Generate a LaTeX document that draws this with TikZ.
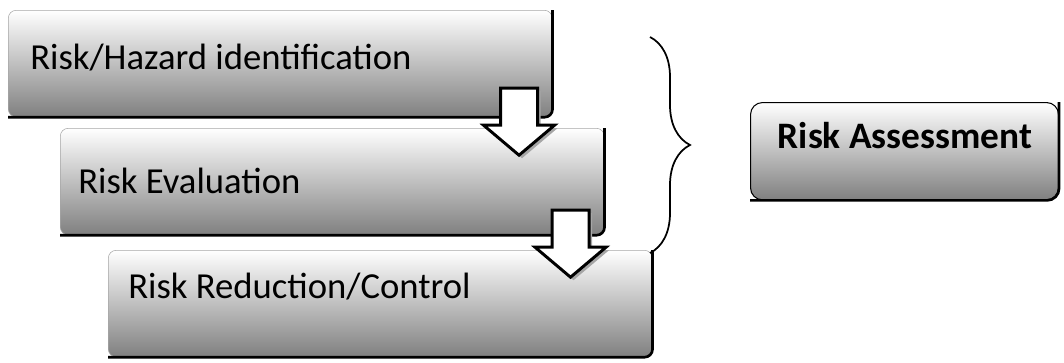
\documentclass[tikz,border=0pt]{standalone}
\usepackage{fontspec}
\setmainfont{Carlito}
\usetikzlibrary{positioning, decorations.pathreplacing}

\begin{document}
\begin{tikzpicture}[
  x=0.75pt, y=-0.75pt,
  stage/.style={rectangle, rounded corners=6pt, anchor=north west, inner sep=0pt,
    minimum width=408pt, minimum height=80pt, top color=white, bottom color=black!50, draw=black!35},
  edge/.style={line width=2pt, rounded corners=6pt},
  stagetext/.style={anchor=base west, inner sep=0pt, font=\fontsize{27.5}{32}\selectfont},
  summary/.style={rectangle, rounded corners=9pt, anchor=north west, inner sep=0pt,
    minimum width=231pt, minimum height=73pt, top color=white, bottom color=black!50, draw, thick},
  flowarrow/.pic={
    \fill[black!35] (-15.5,3) -- (21.5,3) -- (21.5,40) -- (38.5,40) -- (3,70) -- (-32.5,40) -- (-15.5,40) -- cycle;
    \draw[line width=2.2pt, fill=white, line join=miter]
      (-18.5,0) -- (18.5,0) -- (18.5,37) -- (35.5,37) -- (0,67) -- (-35.5,37) -- (-18.5,37) -- cycle;
  }
]
\useasboundingbox (0,0) rectangle (1064,362);

% the three stages
\node[stage] (ident) at (8,10) {};
\node[stage] (eval) at (60,128) {};
\node[stage] (reduce) at (108,250) {};
\foreach \s in {ident, eval, reduce}
  \draw[edge] (\s.north east) -- (\s.south east) -- (\s.south west);

\node[stagetext] (identtext) at (30,69) {Risk/Hazard identification};
\node[stagetext] (evaltext) at (78,193) {Risk Evaluation};
\node[stagetext] (reducetext) at (128,298) {Risk Reduction/Control};

% block arrows between the stages
\pic at ([shift={(-33.5,-29)}]ident.south east) {flowarrow};
\pic at ([shift={(-34,-25)}]eval.south east) {flowarrow};

% brace over the first two stages
\coordinate (bracetop) at (650,37);
\coordinate (bracebot) at (650,253);
\draw[line width=1.3pt, decorate, decoration={brace, amplitude=30pt}] (bracetop) -- (bracebot);

\node[summary] (assess) at (750,102) {};
\draw[edge, rounded corners=9pt] (assess.north east) -- (assess.south east) -- (assess.south west);
\node[anchor=base, inner sep=0pt, font=\bfseries\fontsize{28}{32}\selectfont] (assesstext) at (905,148) {Risk Assessment};
\end{tikzpicture}
\end{document}
